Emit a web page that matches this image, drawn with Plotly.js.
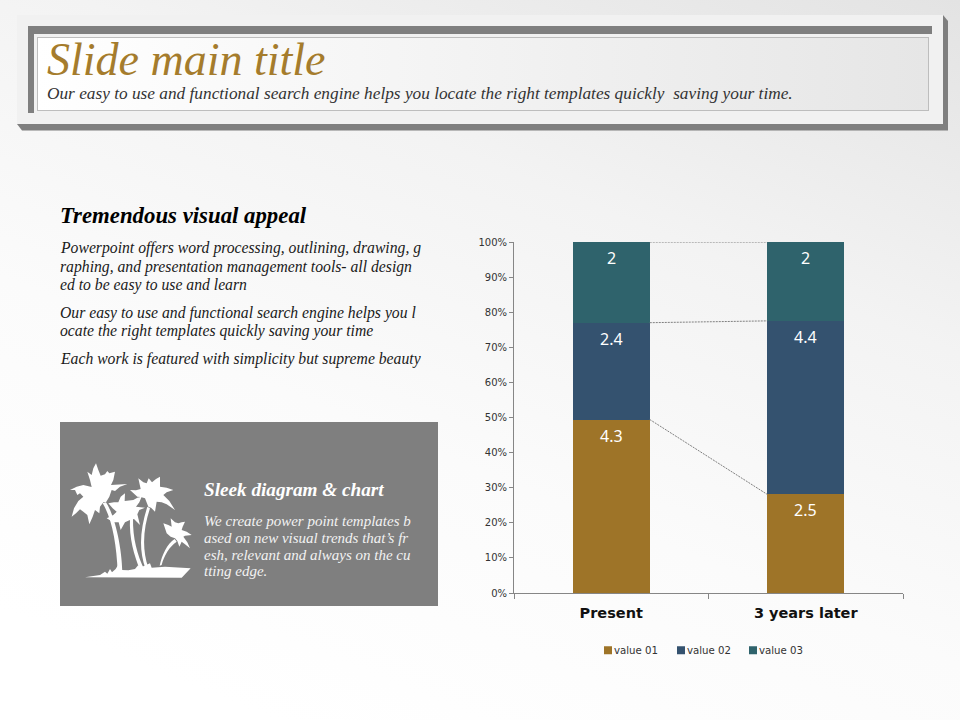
<!DOCTYPE html>
<html><head><meta charset="utf-8">
<script src="https://cdn.plot.ly/plotly-3.0.0.min.js"></script>
<style>
html,body{margin:0;padding:0;width:960px;height:720px;overflow:hidden}
body{position:relative;background:linear-gradient(202deg,#e3e3e3 0%,#f3f3f3 32%,#fbfbfb 60%,#ffffff 90%)}
.c{position:absolute;box-sizing:border-box}
#plot{position:absolute;left:0;top:0;width:960px;height:720px}
</style></head><body>
<div class="c" style="left:17px;top:15px;width:931px;height:115.5px;background:#7f7f7f;clip-path:polygon(926px 0,931px 6px,931px 115.5px,5px 115.5px,0 109px)"></div>
<div class="c" style="left:17px;top:15px;width:926px;height:109px;background:#f1f1f1"></div>
<div class="c" style="left:28px;top:26px;width:904px;height:8px;background:#7f7f7f"></div>
<div class="c" style="left:28px;top:26px;width:6px;height:87px;background:#7f7f7f"></div>
<div class="c" style="left:37px;top:37px;width:892px;height:74px;border:1px solid #bdbdbd;background:linear-gradient(90deg,#ffffff,#e6e6e6)"></div>
<div class="c" style="left:60px;top:422px;width:378px;height:184px;background:#7f7f7f"></div>
<svg class="c" style="left:50px;top:415px" width="160" height="195" viewBox="0 0 480 585" fill="#fff">
<path d="M112,170 L125,180 L130,160 L138,145 L145,165 L152,182 L165,178 L172,168 L178,175 L195,170 L190,195 L183,210 L232,207 L210,215 L195,228 L185,225 L178,245 L168,262 L160,262 L150,275 L148,295 L135,285 L128,305 L118,328 L112,300 L100,290 L90,283 L78,295 L65,305 L72,280 L85,258 L100,245 L90,235 L82,240 L75,225 L60,225 L80,215 L100,210 L125,216 L120,195 Z"/>
<path d="M175,265 L192,262 L205,262 L212,245 L225,235 L224,258 L250,255 L262,248 L275,245 L268,262 L258,275 L285,278 L268,285 L262,298 L270,330 L252,312 L238,316 L225,322 L212,345 L206,322 L190,322 L170,310 L190,300 L200,290 L188,280 Z"/>
<path d="M240,225 L258,226 L272,222 L265,190 L280,202 L290,205 L296,190 L306,202 L318,192 L330,185 L330,200 L330,215 L350,218 L370,225 L350,232 L340,240 L358,258 L375,285 L350,268 L335,262 L320,260 L315,290 L303,278 L295,275 L285,250 L272,246 L262,245 Z"/>
<path d="M340,325 L355,330 L365,335 L362,310 L375,322 L385,325 L395,322 L405,320 L398,335 L395,345 L410,350 L425,360 L405,362 L400,365 L412,382 L420,400 L405,388 L395,380 L388,395 L382,378 L375,370 L362,365 L350,355 Z"/>
<path d="M158,265 C186,310 200,390 203,470 L217,470 C215,390 193,300 168,262 Z"/>
<path d="M240,310 C237,370 252,420 270,465 L282,462 C262,420 248,370 249,310 Z"/>
<path d="M292,275 C272,340 264,400 287,462 L295,458 C275,400 280,340 300,280 Z"/>
<path d="M374,372 C352,385 336,420 329,452 L335,450 C342,422 358,395 380,380 Z"/>
<path d="M105,487 L150,480 L165,470 L172,476 L180,462 L186,472 L197,462 L210,440 L216,465 L235,466 L255,462 L265,450 L270,458 L300,445 L305,458 L345,455 L422,460 L395,488 Z"/>
</svg>
<div id="plot"></div>
<script>
var categories = ['Present', '3 years later'];
var seriesNames = ['value 01', 'value 02', 'value 03'];
var value01 = [4.3, 2.5];
var value02 = [2.4, 4.4];
var value03 = [2, 2];
var seriesValues = [value01, value02, value03];
var seriesColors = ['#9E7428', '#34526F', '#2F636C'];
var titleText = 'Slide main title';
var subtitleText = 'Our easy to use and functional search engine helps you locate the right templates quickly  saving your time.';
var headingText = 'Tremendous visual appeal';
var bodyLines = [
  ['Powerpoint offers word processing, outlining, drawing, g', 248],
  ['raphing, and presentation management tools- all design', 267],
  ['ed to be easy to use and learn', 285],
  ['Our easy to use and functional search engine helps you l', 313],
  ['ocate the right templates quickly saving your time', 331],
  ['Each work is featured with simplicity but supreme beauty', 359]
];
var boxHeading = 'Sleek diagram & chart';
var boxLines = [
  ['We create power point templates b', 521],
  ['ased on new visual trends that\u2019s fr', 538],
  ['esh, relevant and always on the cu', 555],
  ['tting edge.', 571]
];
var legendCenters = [608, 681, 753];
var barWidth = 0.396;
var M = {l:514, r:57, t:242, b:127};
var serif = '"Liberation Serif", serif';
function px(x){return (x-M.l)/(960-M.l-M.r);}
function py(y){return 1-(y-M.t)/(720-M.t-M.b);}
function note(text,x,y,size,color,weight){
  return {text:text,x:px(x),y:py(y),xref:'paper',yref:'paper',xanchor:'left',yanchor:'middle',showarrow:false,
    font:{family:serif,size:size,color:color,style:'italic',weight:weight||400},borderpad:0,borderwidth:0};
}
var annotations = [
  note(titleText,47,60,46,'#A57C2C'),
  note(subtitleText,47,94,17.3,'#333333'),
  note(headingText,60,215,22.8,'#000000',700),
  note(boxHeading,204,489.5,19.2,'#ffffff',700)
];
bodyLines.forEach(function(l){annotations.push(note(l[0],60,l[1],15.7,'#1a1a1a'));});
boxLines.forEach(function(l){annotations.push(note(l[0],204,l[1],15,'#f2f2f2'));});

var traces = seriesValues.map(function(v,i){
  return {type:'bar',name:seriesNames[i],x:categories,y:v,width:barWidth,
    marker:{color:seriesColors[i],line:{width:0}},hoverinfo:'none'};
});
// dashed series lines and value labels, placed from the cumulated shares
var shapes = [];
var totals = categories.map(function(c,k){return seriesValues.reduce(function(s,v){return s+v[k];},0);});
var run = [0,0];
seriesValues.forEach(function(v){
  run = run.map(function(r,k){return r+v[k];});
  shapes.push({type:'line',xref:'x',yref:'y',x0:barWidth/2,x1:1-barWidth/2,
    y0:run[0]/totals[0]*100,y1:run[1]/totals[1]*100,line:{color:'#808080',width:1,dash:'2px,1px'}});
  categories.forEach(function(c,k){
    annotations.push({text:String(v[k]),x:k,y:run[k]/totals[k]*100,xref:'x',yref:'y',yshift:-16,yanchor:'middle',xanchor:'center',
      showarrow:false,font:{family:'"Noto Sans", sans-serif',size:16,color:'#ffffff'}});
  });
});
var tf = {family:'"DejaVu Sans", sans-serif',size:10,color:'#333333'};
var layout = {
  width:960,height:720,margin:M,paper_bgcolor:'rgba(0,0,0,0)',plot_bgcolor:'rgba(0,0,0,0)',
  barmode:'stack',barnorm:'percent',showlegend:true,
  xaxis:{type:'category',range:[-0.5,1.5],tickson:'boundaries',ticks:'outside',ticklen:5,tickcolor:'#868686',tickwidth:1,
    showline:true,linecolor:'#868686',linewidth:1,showgrid:false,zeroline:false,ticklabelstandoff:7,
    tickfont:{family:'"DejaVu Sans", sans-serif',size:14.5,color:'#111111',weight:700},automargin:false},
  yaxis:{range:[0,100],dtick:10,ticksuffix:'%',ticks:'outside',ticklen:4,tickcolor:'#868686',tickwidth:1,
    showline:true,linecolor:'#868686',linewidth:1,showgrid:false,zeroline:false,tickfont:tf,automargin:false},
  legend:{orientation:'h',x:0.1914,xanchor:'left',y:-0.122,yanchor:'top',font:{family:tf.family,size:10.2,color:tf.color},bgcolor:'rgba(0,0,0,0)',itemclick:false,traceorder:'normal'},
  annotations:annotations,shapes:shapes
};
Plotly.newPlot('plot',traces,layout,{staticPlot:true,displayModeBar:false}).then(function(gd){
  // tighten the native legend to the compact swatch-and-label spacing of the reference
  gd.querySelectorAll('.legend .traces').forEach(function(g,i){
    var sw = g.querySelector('.legendpoints path');
    var tx = g.querySelector('.legendtext');
    if(!sw) return;
    sw.setAttribute('d','M4,4H-4V-4H4Z');
    var r = sw.getBoundingClientRect();
    var m = /translate\(([-\d.]+)[ ,]+([-\d.]+)\)/.exec(g.getAttribute('transform')||'translate(0,0)');
    var nx = parseFloat(m[1]) + legendCenters[i] - (r.left+r.right)/2;
    g.setAttribute('transform','translate('+nx+','+m[2]+')');
    if(tx) tx.setAttribute('x',26);
  });
});
</script>
</body></html>
